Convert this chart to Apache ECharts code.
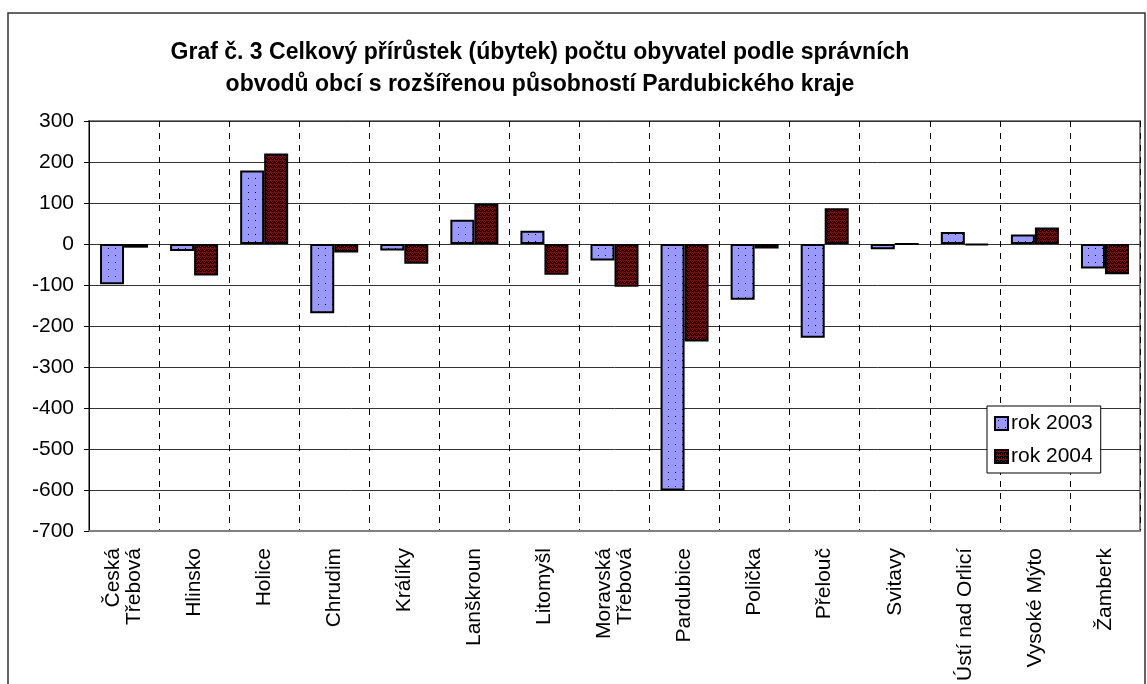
<!DOCTYPE html>
<html>
<head>
<meta charset="utf-8">
<script src="https://cdn.jsdelivr.net/npm/echarts@6/dist/echarts.min.js"></script>
<style>
  html, body { margin: 0; padding: 0; background: #fff; }
  #main { width: 1147px; height: 684px; }
</style>
</head>
<body>
<div id="main"></div>
<script>
var categories = ['Česká\nTřebová', 'Hlinsko', 'Holice', 'Chrudim', 'Králíky', 'Lanškroun', 'Litomyšl',
    'Moravská\nTřebová', 'Pardubice', 'Polička', 'Přelouč', 'Svitavy', 'Ústí nad Orlicí', 'Vysoké Mýto', 'Žamberk'];
var rok2003 = [-98, -17, 179, -169, -16, 59, 32, -40, -601, -136, -229, -13, 29, 23, -60];
var rok2004 = [-9, -77, 221, -21, -48, 98, -75, -104, -238, -11, 87, 0, -3, 40, -74];
var yTicks = { min: -700, max: 300, step: 100 };

var FONT = 'Arial, "Liberation Sans", sans-serif';

// vzorky vyplne jako v Excelu
function makePattern(bg, fg, size, pts) {
    var c = document.createElement('canvas');
    c.width = size; c.height = size;
    var g = c.getContext('2d');
    g.fillStyle = bg;
    g.fillRect(0, 0, size, size);
    g.fillStyle = fg;
    pts.forEach(function (p) { g.fillRect(p[0], p[1], 1, 1); });
    return { image: c, repeat: 'repeat' };
}
var bluePattern = makePattern('#9999ff', '#000', 7, [[3, 3]]);
var redPattern = makePattern('#000', '#a00000', 4, [[0, 0], [2, 0], [1, 1], [3, 1], [0, 2], [2, 3]]);

var chart = echarts.init(document.getElementById('main'));
var option = {
    animation: false,
    backgroundColor: '#fff',
    title: {
        text: 'Graf č. 3 Celkový přírůstek (úbytek) počtu obyvatel podle správních\nobvodů obcí s rozšířenou působností Pardubického kraje',
        left: 535,
        top: 32,
        textAlign: 'center',
        textStyle: {
            fontFamily: FONT,
            fontSize: 23,
            fontWeight: 'bold',
            color: '#000',
            lineHeight: 32
        }
    },
    graphic: [{
        type: 'rect',
        shape: { x: 8, y: 13, width: 1137, height: 700 },
        style: { fill: 'none', stroke: '#333', lineWidth: 1.5 },
        silent: true
    }],
    legend: {
        orient: 'vertical',
        left: 987,
        top: 406,
        padding: [7, 8, 6, 7],
        itemGap: 12,
        itemWidth: 13,
        itemHeight: 13,
        backgroundColor: '#fff',
        borderColor: '#000',
        borderWidth: 1,
        borderRadius: 0,
        icon: 'rect',
        textStyle: { fontFamily: FONT, fontSize: 21, color: '#000', padding: [0, 0, 0, -2] },
        data: ['rok 2003', 'rok 2004']
    },
    grid: {
        left: 89,
        top: 121,
        right: 7,
        bottom: 151,
        show: true,
        borderColor: '#808080',
        borderWidth: 2
    },
    xAxis: {
        type: 'category',
        data: categories,
        axisLine: { onZero: false, lineStyle: { color: '#808080', width: 2 } },
        axisTick: { show: false },
        splitLine: {
            show: true,
            interval: 0,
            lineStyle: { color: '#000', type: [6, 6], width: 1 }
        },
        axisLabel: {
            interval: 0,
            rotate: 90,
            margin: 17,
            fontFamily: FONT,
            fontSize: 21,
            color: '#000',
            lineHeight: 21
        }
    },
    yAxis: {
        type: 'value',
        min: yTicks.min,
        max: yTicks.max,
        interval: yTicks.step,
        axisLine: { show: true, lineStyle: { color: '#000', width: 1 } },
        axisTick: { show: true, length: 5, lineStyle: { color: '#000' } },
        splitLine: { lineStyle: { color: '#333', width: 1 } },
        axisLabel: {
            margin: 15,
            fontFamily: FONT,
            fontSize: 21,
            color: '#000'
        }
    },
    series: [
        {
            name: 'rok 2003',
            type: 'bar',
            data: rok2003,
            barWidth: 24,
            barGap: '0%',
            itemStyle: { color: bluePattern, borderColor: '#000', borderWidth: 2 }
        },
        {
            name: 'rok 2004',
            type: 'bar',
            data: rok2004,
            barWidth: 24,
            barGap: '0%',
            itemStyle: { color: redPattern, borderColor: '#000', borderWidth: 2 }
        }
    ]
};
chart.setOption(option);
</script>
</body>
</html>
